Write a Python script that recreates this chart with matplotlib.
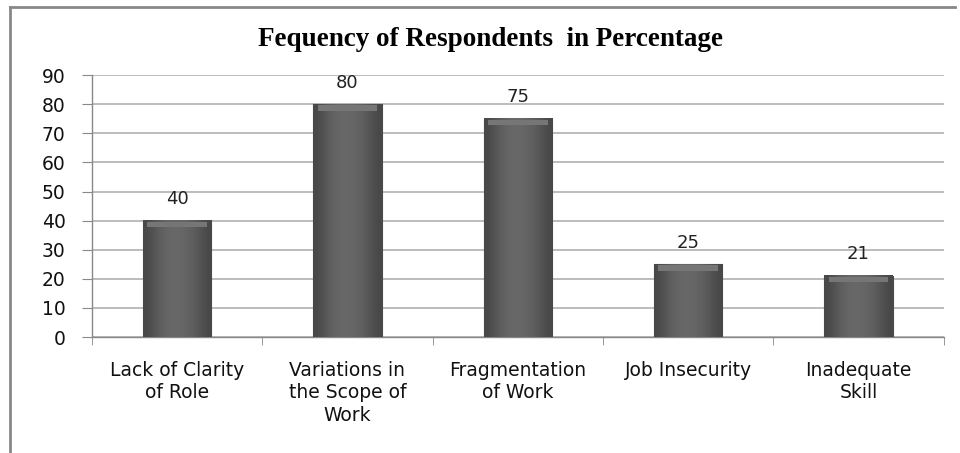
import numpy as np
import matplotlib
matplotlib.use("Agg")
import matplotlib.pyplot as plt
from matplotlib.lines import Line2D

# data
categories = ["Lack of Clarity\nof Role", "Variations in\nthe Scope of\nWork",
              "Fragmentation\nof Work", "Job Insecurity", "Inadequate\nSkill"]
values = [40, 80, 75, 25, 21]
yticks = [0, 10, 20, 30, 40, 50, 60, 70, 80, 90]

plt.rcParams['font.family'] = ['DejaVu Sans']

fig = plt.figure(figsize=(9.6, 4.53), dpi=100)
ax = fig.add_axes([0.0958, 0.256, 0.8872, 0.578])

x = np.arange(len(values))
bars = ax.bar(x, values, width=0.40, color='#5a5a5a', edgecolor='#4a4a4a',
              linewidth=0.8, zorder=3)

# horizontal shading on each bar (dark edges, lighter middle)
shade = np.array([[0.28, 0.36, 0.40, 0.41, 0.39, 0.35, 0.28]])
for b in bars:
    x0, w, h = b.get_x(), b.get_width(), b.get_height()
    ax.imshow(shade, cmap='gray', vmin=0, vmax=1, aspect='auto',
              extent=[x0, x0 + w, 0, h], zorder=3.5, interpolation='bicubic')
    # light top bevel
    ax.fill_between([x0 + w * 0.06, x0 + w * 0.94], h - 2.2, h - 0.3,
                    color='#767676', zorder=3.6, linewidth=0)

for xi, v in zip(x, values):
    ax.annotate(str(v), (xi, v), xytext=(0, 9), textcoords='offset points',
                ha='center', va='bottom', fontsize=13, color='#222222')

ax.set_xlim(-0.5, len(values) - 0.5)
ax.set_ylim(0, 90)
ax.set_yticks(yticks)
ax.tick_params(axis='y', labelsize=13.5, length=7, color='#888888',
               labelcolor='#111111', pad=12)
ax.yaxis.grid(True, color='#b0b0b0', linewidth=1.2, zorder=0)
ax.set_axisbelow(True)

ax.set_xticks(x)
ax.set_xticklabels(categories, fontsize=13.5, color='#111111', linespacing=1.25)
ax.tick_params(axis='x', length=0, pad=17)
ax.set_xticks(np.arange(len(values) + 1) - 0.5, minor=True)
ax.tick_params(axis='x', which='minor', length=6, color='#888888')

for s in ['top', 'right']:
    ax.spines[s].set_visible(False)
for s in ['left', 'bottom']:
    ax.spines[s].set_color('#888888')
    ax.spines[s].set_linewidth(1.0)

fig.text(0.511, 0.912, "Fequency of Respondents  in Percentage",
         ha='center', va='center', fontsize=19.5, fontweight='bold',
         family='Liberation Serif')

# chart frame (top and left edges visible)
fig.add_artist(Line2D([0.0104, 0.995], [0.985, 0.985], color='#888888', lw=2))
fig.add_artist(Line2D([0.0104, 0.0104], [0.0, 0.985], color='#888888', lw=2))

fig.savefig("out.png", dpi=100, facecolor='white')
